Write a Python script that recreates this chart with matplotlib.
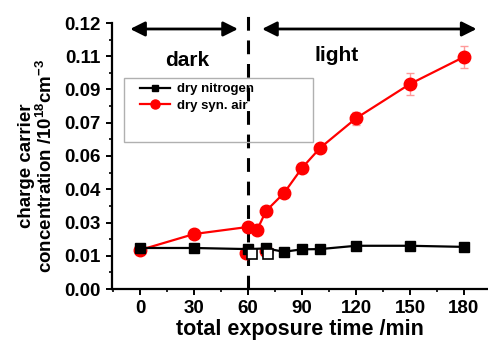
import matplotlib
matplotlib.use("Agg")
import matplotlib.pyplot as plt
from matplotlib.lines import Line2D
from matplotlib.patches import Rectangle
from matplotlib.ticker import FixedLocator, MultipleLocator

plt.rcParams['font.family'] = ['Liberation Sans', 'DejaVu Sans']
plt.rcParams['font.weight'] = 'bold'
plt.rcParams['mathtext.fontset'] = 'custom'
plt.rcParams['mathtext.rm'] = 'Liberation Sans:bold'
plt.rcParams['mathtext.default'] = 'rm'

# ---- data ----
time_air = [0, 30, 60, 65, 70, 80, 90, 100, 120, 150, 180]
air = [0.0176, 0.0248, 0.0280, 0.0266, 0.0352, 0.0433, 0.0546, 0.0636, 0.0770, 0.0925, 0.1047]
air_err = [0.001, 0.001, 0.001, 0.001, 0.001, 0.0015, 0.002, 0.002, 0.003, 0.005, 0.005]

time_n2 = [0, 30, 60, 70, 80, 90, 100, 120, 150, 180]
n2 = [0.0185, 0.0185, 0.0180, 0.0183, 0.0168, 0.0179, 0.0180, 0.0195, 0.0195, 0.0190]

time_air_extra = [59, 70]
air_extra = [0.0161, 0.0170]
time_n2_open = [62, 71]
n2_open = [0.0158, 0.0158]

y_ticks = [0.0, 0.015, 0.03, 0.045, 0.06, 0.075, 0.09, 0.105, 0.12]
y_ticklabels = ['0.00', '0.01', '0.03', '0.04', '0.06', '0.07', '0.09', '0.11', '0.12']
x_ticks = [0, 30, 60, 90, 120, 150, 180]

W, H = 488, 340
fig = plt.figure(figsize=(W / 100, H / 100), dpi=100)
ax = fig.add_axes([112 / W, 1 - 289 / H, (487 - 112) / W, (289 - 23) / H])
ax.set_xlim(-15.6, 192.8)
ax.set_ylim(0, 0.12)

# series
ax.errorbar(time_air, air, yerr=air_err, color='red', ecolor='#ff9a9a', elinewidth=1,
            capsize=3, capthick=1, lw=1.6, marker='o', ms=9, zorder=3)
ax.plot(time_air_extra, air_extra, 'o', color='red', ms=9, zorder=3, ls='none')
ax.plot(time_n2, n2, color='black', lw=1.6, marker='s', ms=7.5, zorder=4)
ax.plot(time_n2_open, n2_open, 's', mfc='white', mec='black', mew=1.2, ms=7, zorder=5, ls='none')

# dashed separator
ax.plot([60, 60], [0, 0.1235], color='black', lw=2.2, dashes=(4.5, 3.2), clip_on=False, zorder=2)

# arrows
ap = dict(arrowstyle='<|-|>', color='black', lw=2, mutation_scale=22, shrinkA=0, shrinkB=0)
ax.annotate('', xy=(-5.5, 0.1173), xytext=(54.4, 0.1173), arrowprops=ap, annotation_clip=False)
ax.annotate('', xy=(67.8, 0.1173), xytext=(187, 0.1173), arrowprops=ap, annotation_clip=False)
ax.text(26, 0.1033, 'dark', fontsize=15, fontweight='bold', ha='center', va='center')
ax.text(109.4, 0.1055, 'light', fontsize=15, fontweight='bold', ha='center', va='center')

# axes style
for s in ['top', 'right']:
    ax.spines[s].set_visible(False)
for s in ['left', 'bottom']:
    ax.spines[s].set_linewidth(1.6)
ax.yaxis.set_major_locator(FixedLocator(y_ticks))
ax.set_yticklabels(y_ticklabels)
ax.yaxis.set_minor_locator(MultipleLocator(0.0075))
ax.xaxis.set_major_locator(FixedLocator(x_ticks))
ax.xaxis.set_minor_locator(MultipleLocator(15))
ax.tick_params(which='major', direction='out', length=4, width=1.4, labelsize=13.5, pad=4)
ax.tick_params(which='minor', direction='out', length=2.5, width=1.2)
for lab in ax.get_xticklabels() + ax.get_yticklabels():
    lab.set_fontweight('bold')

ax.set_xlabel('total exposure time /min', fontsize=15.5, fontweight='bold', labelpad=1)
fig.text(37 / W, 1 - 166 / H, 'charge carrier\nconcentration /10$^{18}$cm$^{-3}$',
         rotation=90, ha='center', va='center', fontsize=13.5, fontweight='bold',
         multialignment='center', linespacing=1.05)

# legend
fig.patches.append(Rectangle((124 / W, 1 - 142 / H), (313 - 124) / W, (142 - 78) / H,
                             transform=fig.transFigure, fill=False, ec='#b0b0b0', lw=1))
handles = [Line2D([], [], color='black', lw=1.6, marker='s', ms=5),
           Line2D([], [], color='red', lw=1.6, marker='o', ms=6.5)]
leg = fig.legend(handles, ['dry nitrogen', 'dry syn. air'], loc='upper left',
                 bbox_to_anchor=(140 / W, 1 - 83 / H), frameon=False, borderpad=0,
                 borderaxespad=0, handlelength=2.3, handletextpad=0.5, labelspacing=0.35,
                 prop={'size': 9.5, 'weight': 'bold'})

fig.savefig('out.png', dpi=100)
